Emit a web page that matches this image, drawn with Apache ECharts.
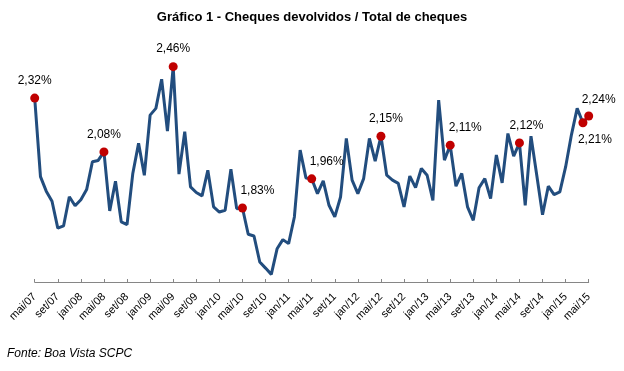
<!DOCTYPE html>
<html>
<head>
<meta charset="utf-8">
<script src="https://cdn.jsdelivr.net/npm/echarts@6/dist/echarts.min.js"></script>
<style>
html,body{margin:0;padding:0;background:#fff;}
#chart{width:624px;height:371px;}
</style>
</head>
<body>
<div id="chart"></div>
<script>
var monthNames = ['jan','fev','mar','abr','mai','jun','jul','ago','set','out','nov','dez'];
var startMonth = 4; // mai
var startYear = 7;  // 2007
var values = [
  2.32, 1.97, 1.905, 1.86, 1.74, 1.75, 1.88, 1.84, 1.867, 1.912, 2.036, 2.042,
  2.08, 1.817, 1.949, 1.768, 1.756, 1.984, 2.118, 1.976, 2.244, 2.274, 2.404, 2.173,
  2.46, 1.981, 2.17, 1.924, 1.899, 1.884, 1.998, 1.835, 1.812, 1.82, 2.003, 1.827,
  1.83, 1.713, 1.705, 1.589, 1.562, 1.534, 1.648, 1.689, 1.671, 1.79, 2.088, 1.964,
  1.96, 1.894, 1.951, 1.842, 1.79, 1.879, 2.14, 1.954, 1.894, 1.961, 2.14, 2.039,
  2.15, 1.976, 1.954, 1.94, 1.835, 1.972, 1.921, 2.006, 1.976, 1.864, 2.311, 2.043,
  2.11, 1.927, 1.984, 1.835, 1.775, 1.92, 1.961, 1.872, 2.066, 1.942, 2.162, 2.061,
  2.12, 1.842, 2.15, 1.976, 1.80, 1.927, 1.89, 1.902, 2.013, 2.155, 2.274, 2.21,
  2.24
];
var categories = [];
for (var k = 0; k < values.length; k++) {
  var m = (startMonth + k) % 12;
  var y = startYear + Math.floor((startMonth + k) / 12);
  categories.push(monthNames[m] + '/' + (y < 10 ? '0' + y : '' + y));
}
var highlightIdx = [0, 12, 24, 36, 48, 60, 72, 84, 95, 96];

var chart = echarts.init(document.getElementById('chart'));
function fmt(v){ return v.toFixed(2).replace('.', ',') + '%'; }
var scatterData = highlightIdx.map(function(idx, j){
  var lbl = {position: 'top', distance: 7};
  if (j === 3 || j === 4 || j === 6) { lbl = {position: 'top', offset: [15, 0], distance: 7}; }
  if (j === 5) { lbl = {position: 'top', offset: [5, 0], distance: 7}; }
  if (j === 7) { lbl = {position: 'top', offset: [7, 0], distance: 7}; }
  if (j === 8) { lbl = {position: 'bottom', offset: [12, 0], distance: 6}; }
  if (j === 9) { lbl = {position: 'top', offset: [10, 0], distance: 6}; }
  return {value: [idx, values[idx]], label: lbl};
});

chart.setOption({
  animation: false,
  title: {
    text: 'Gráfico 1 - Cheques devolvidos / Total de cheques',
    left: 'center', top: 6,
    textStyle: {fontFamily: 'Liberation Sans, Arial', fontSize: 13, fontWeight: 'bold', color: '#000'}
  },
  graphic: [{
    type: 'text', left: 7, top: 348,
    style: {text: 'Fonte: Boa Vista SCPC', fontFamily: 'Liberation Sans, Arial', fontSize: 12, fontStyle: 'italic', fill: '#000'}
  }],
  grid: {left: 34.7, right: 35.3, top: 57.7, bottom: 89},
  xAxis: {
    type: 'category', data: categories, boundaryGap: false,
    axisLine: {lineStyle: {color: '#868686', width: 1}},
    axisTick: {show: true, interval: 3, inside: true, length: 3, lineStyle: {color: '#868686'}},
    axisLabel: {interval: 3, rotate: 45, margin: 13, fontFamily: 'Liberation Sans, Arial', fontSize: 11, color: '#000'}
  },
  yAxis: {
    type: 'value', min: 1.5, max: 2.5, show: false,
    splitLine: {show: false}
  },
  series: [{
    type: 'line', data: values, symbol: 'none',
    lineStyle: {color: '#224D7E', width: 3},
    z: 2
  }, {
    type: 'scatter', data: scatterData, symbolSize: 9,
    itemStyle: {color: '#C00000', opacity: 1},
    label: {show: true, formatter: function(p){ return fmt(p.value[1]); },
      fontFamily: 'Liberation Sans, Arial', fontSize: 12, color: '#000'},
    z: 3
  }]
});
</script>
</body>
</html>
